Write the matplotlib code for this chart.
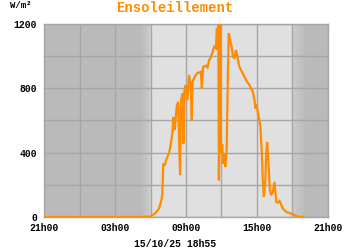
import numpy as np
import matplotlib
matplotlib.use('Agg')
from matplotlib import pyplot as plt

# heures de la journee (21h00 de la veille = -3), valeurs en W/m2
heures = [-3.0, 5.2, 6.0, 6.43, 6.71, 6.92, 7.0, 7.08, 7.2, 7.37, 7.56, 7.7,
          7.85, 7.93, 8.05, 8.21, 8.33, 8.5, 8.58, 8.7, 8.78, 8.87, 8.98,
          9.12, 9.26, 9.4, 9.49, 9.55, 9.69, 9.83, 9.97, 10.25, 10.34, 10.45,
          10.68, 10.82, 10.96, 11.1, 11.25, 11.38, 11.53, 11.61, 11.67, 11.73,
          11.78, 11.9, 11.95, 12.0, 12.06, 12.14, 12.23, 12.32, 12.44, 12.52,
          12.61, 12.74, 12.86, 12.97, 13.08, 13.23, 13.37, 13.51, 13.8, 14.08,
          14.36, 14.65, 14.79, 14.87, 14.95, 15.07, 15.29, 15.41, 15.49, 15.58,
          15.69, 15.78, 15.86, 15.97, 16.09, 16.2, 16.35, 16.48, 16.63, 16.77,
          16.91, 17.05, 17.19, 17.48, 17.76, 18.05, 18.47, 18.92]
valeurs = [0, 0, 3, 25, 52, 104, 145, 332, 320, 364, 395, 446,
           520, 622, 540, 685, 716, 260, 726, 768, 457, 789, 820,
           726, 883, 810, 602, 840, 864, 883, 895, 903, 800, 934,
           941, 930, 976, 992, 1027, 1059, 1050, 1173, 1038, 1200,
           228, 1200, 478, 400, 450, 330, 395, 311, 420, 809,
           1142, 1100, 1059, 996, 990, 1038, 986, 934, 893, 851,
           820, 778, 726, 675, 700, 654, 560, 395, 228, 125,
           208, 395, 467, 332, 166, 135, 160, 218, 93, 90,
           100, 75, 52, 31, 25, 15, 2, 0]

x_ticks = [-3, 3, 9, 15, 21]
x_labels = ['21h00', '03h00', '09h00', '15h00', '21h00']
y_ticks = [0, 400, 800, 1200]

orange = '#ff8c00'
police = ['Liberation Mono', 'DejaVu Sans Mono']

fig = plt.figure(figsize=(3.5, 2.5), dpi=100)
ax = fig.add_axes([44 / 350, 1 - 217 / 250, 284 / 350, 193 / 250])

# fond : nuit en gris fonce, jour en gris clair, avec degrade
xs = np.linspace(-3, 21, 600)
g = np.full_like(xs, 0.73)
m = (xs >= 5.2) & (xs < 6)
g[m] = 0.73 + (xs[m] - 5.2) / 0.8 * 0.07
g[(xs >= 6) & (xs < 18)] = 0.88
m = (xs >= 18) & (xs < 19.2)
g[m] = 0.80 - (xs[m] - 18) / 1.2 * 0.07
img = np.repeat(g[np.newaxis, :, np.newaxis], 3, axis=2)
ax.imshow(img, extent=(-3, 21, 0, 1200), aspect='auto', zorder=0,
          interpolation='bilinear')

ax.plot(heures, valeurs, color=orange, linewidth=1.6, zorder=3,
        solid_joinstyle='miter')

ax.set_xlim(-3, 21)
ax.set_ylim(0, 1200)
ax.set_xticks(x_ticks)
ax.set_xticklabels(x_labels)
ax.set_xticks(np.arange(-3, 22, 3), minor=True)
ax.set_yticks(y_ticks)
ax.set_yticks(np.arange(0, 1201, 200), minor=True)
ax.grid(which='both', color='#a6a6a6', linewidth=1.0, zorder=1)
ax.set_axisbelow(False)
ax.tick_params(which='both', length=0)
ax.tick_params(axis='x', pad=4)
ax.tick_params(axis='y', pad=5)
for lab in ax.get_xticklabels() + ax.get_yticklabels():
    lab.set_family(police)
    lab.set_fontweight('bold')
    lab.set_fontsize(7)
for sp in ax.spines.values():
    sp.set_color('#a6a6a6')
    sp.set_linewidth(1.0)

fig.text(175 / 350, 1 - 8 / 250, 'Ensoleillement', color=orange,
         family=police, fontweight='bold', fontsize=10,
         ha='center', va='center')
fig.text(10 / 350, 1 - 6 / 250, 'W/m²', family=police, fontweight='bold',
         fontsize=6.5, ha='left', va='center')
fig.text(175 / 350, 1 - 244 / 250, '15/10/25 18h55', family=police,
         fontweight='bold', fontsize=7, ha='center', va='center')

fig.savefig('out.png', dpi=100)
